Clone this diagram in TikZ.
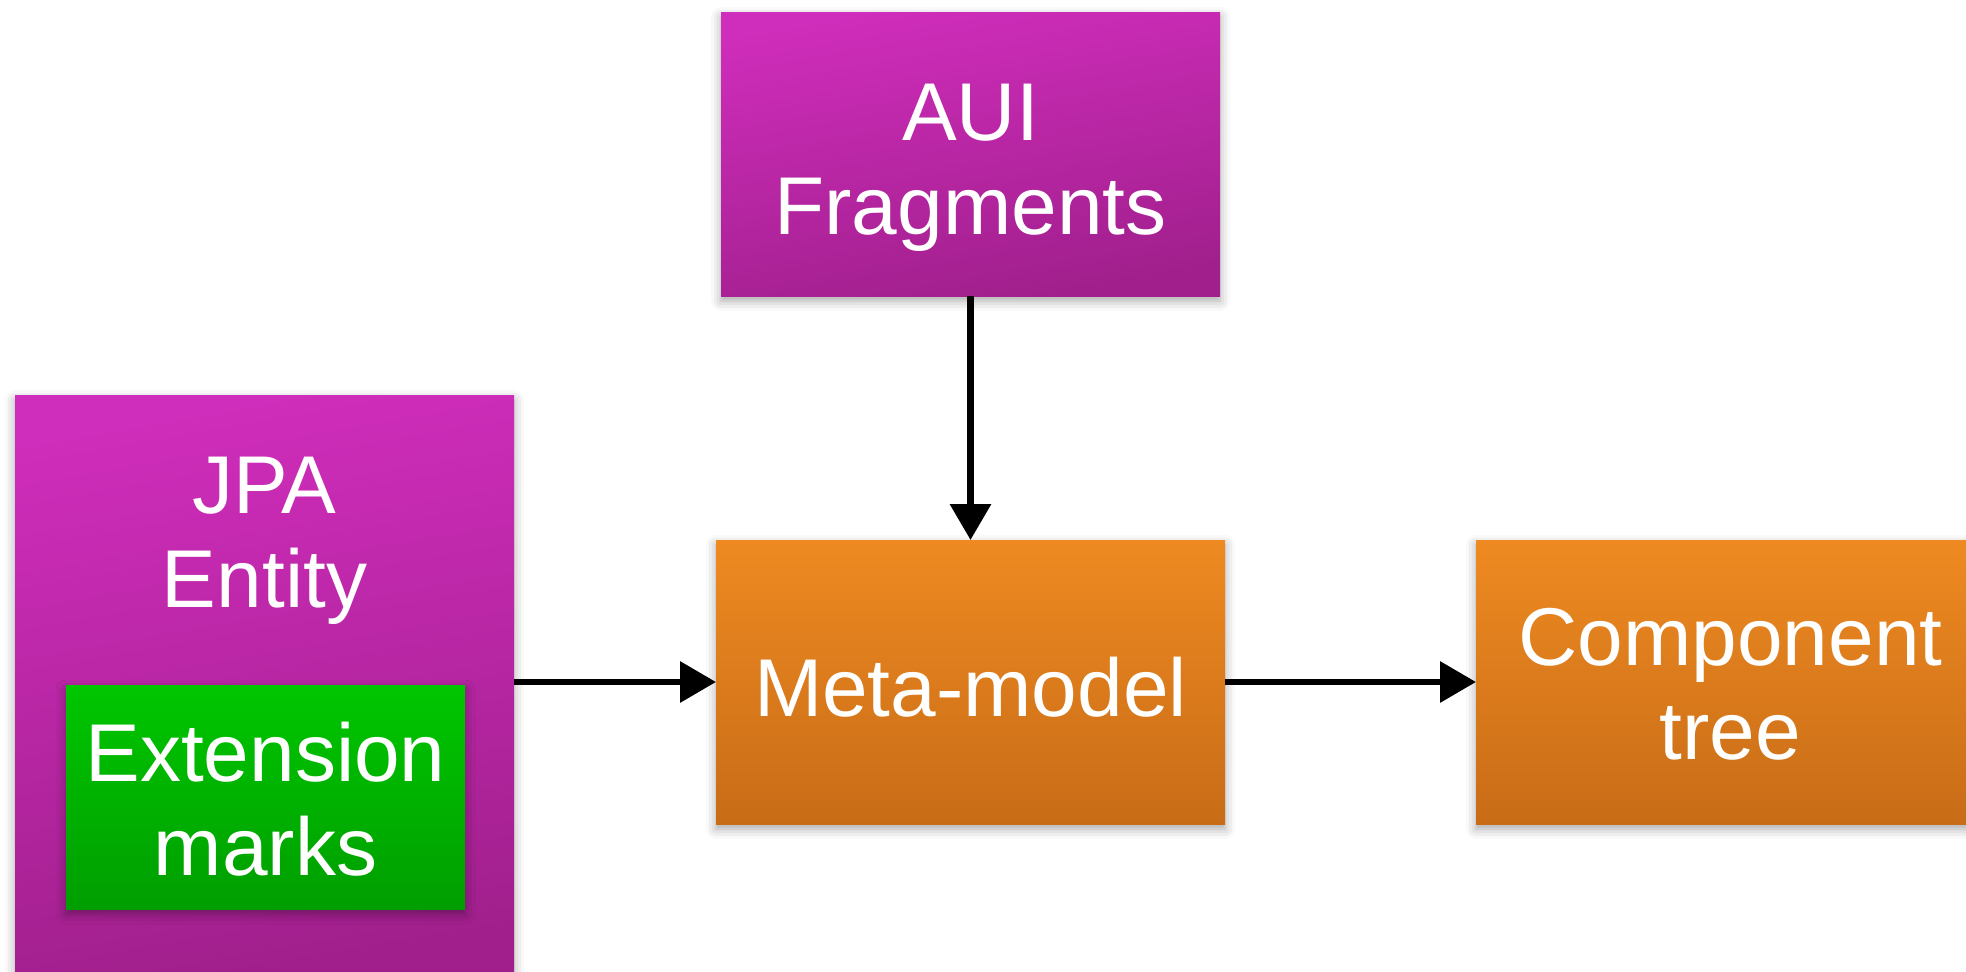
\documentclass[tikz,border=0pt]{standalone}
\usepackage{fontspec}
\setmainfont{Liberation Sans}
\usetikzlibrary{shadows.blur,arrows.meta}
\definecolor{purpT}{HTML}{CF2DBB}
\definecolor{purpB}{HTML}{A01F8C}
\definecolor{orT}{HTML}{EE8A21}
\definecolor{orB}{HTML}{C86C17}
\definecolor{grT}{HTML}{00C600}
\definecolor{grB}{HTML}{009E00}
\tikzset{
  boxbase/.style={rectangle, inner sep=0pt, outer sep=0pt,
    blur shadow={shadow xshift=0pt, shadow yshift=-5pt, shadow blur radius=10pt, shadow opacity=35}},
  boxtext/.style={inner sep=0pt, text=white, align=center, font=\fontsize{82}{94}\selectfont},
  purplebox/.style={boxbase, top color=purpT, bottom color=purpB, shading angle=10},
  orangebox/.style={boxbase, top color=orT, bottom color=orB},
  greenbox/.style={boxbase, top color=grT, bottom color=grB},
  conn/.style={line width=6.5pt, -{Triangle[length=36pt,width=40pt]}}
}
\begin{document}
\begin{tikzpicture}[x=1pt,y=-1pt]
\useasboundingbox (0,0) rectangle (1966,972);
\begin{scope}
\clip (0,0) rectangle (1966,972);
\node[purplebox, minimum width=499pt, minimum height=284pt] (aui) at (970.5,154) {};
\node[boxtext] (auitext) at (970.5,168) {AUI\\Fragments};
\node[purplebox, minimum width=499pt, minimum height=590pt] (jpa) at (264.5,690) {};
\node[boxtext] (jpatext) at (264.5,541) {JPA\\Entity};
\node[greenbox, minimum width=399pt, minimum height=224pt] (ext) at (265.5,797) {};
\node[boxtext] (exttext) at (265.5,799) {Extension\\marks};
\node[orangebox, minimum width=509pt, minimum height=284pt] (meta) at (970.5,682) {};
\node[boxtext] (metatext) at (970.5,687) {Meta-model};
\node[orangebox, minimum width=509pt, minimum height=284pt] (comp) at (1730.5,682) {};
\node[boxtext] (comptext) at (1730.5,684) {Component\\tree};
\end{scope}
\draw[conn] (aui.south) -- (meta.north);
\draw[conn] (jpa.east |- meta.west) -- (meta.west);
\draw[conn] (meta.east) -- (comp.west);
\end{tikzpicture}
\end{document}
